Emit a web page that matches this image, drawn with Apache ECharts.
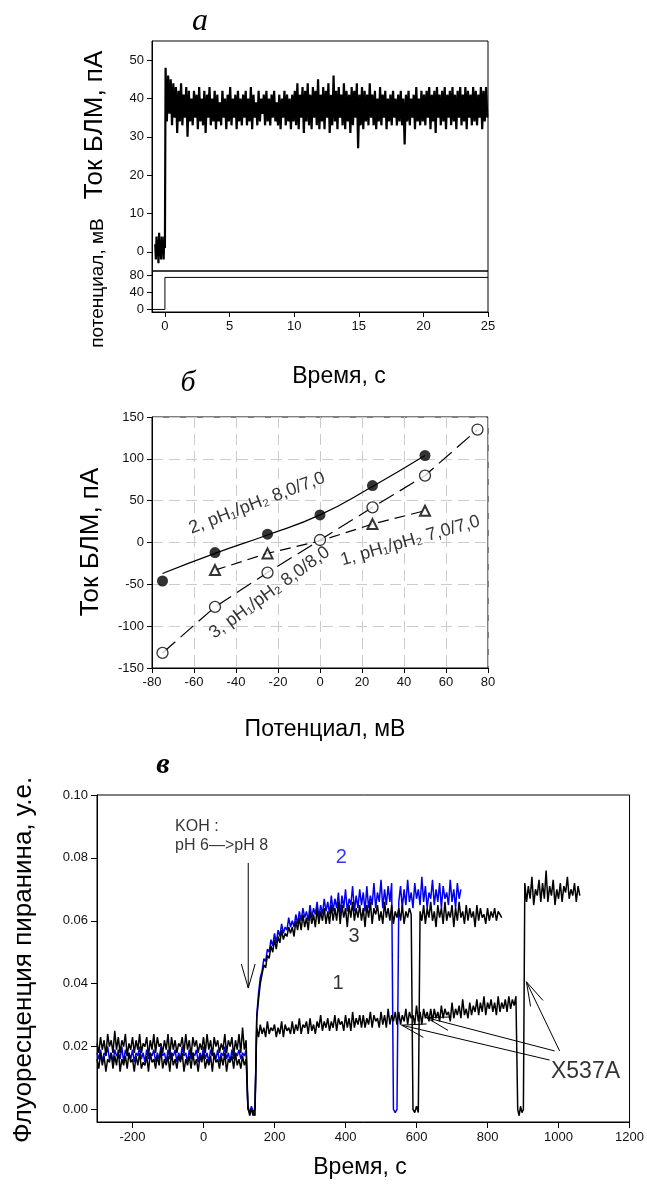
<!DOCTYPE html>
<html><head><meta charset="utf-8">
<script src="https://cdn.jsdelivr.net/npm/echarts@6/dist/echarts.min.js"></script>
<style>html,body{margin:0;padding:0;background:#fff}#c{width:647px;height:1191px}</style>
</head><body><div id="c"></div>
<script>
// ---------- Panel a: BLM current and potential ----------
const aPreT0 = -0.75, aPreDt = 0.05;
const aPre = [2,-2,4,-1,3,-3,5,-1,2,-2,4,0,3,-2,4,1];
const aMainT0 = 0.05, aMainDt = 0.1;
const aMain = [
48,34,46,36,45,33,44,35,43,31,42,34,44,33,41,35,43,30,42,34,
40,33,42,35,41,32,43,34,40,33,42,31,41,35,43,33,40,34,42,32,
41,34,39,33,42,35,40,32,41,34,43,33,40,35,41,32,42,34,40,33,
41,35,42,33,40,34,43,32,41,35,39,33,42,34,40,36,41,33,42,34,
40,33,41,35,42,34,39,33,41,32,40,35,42,33,41,34,40,32,41,34,
42,33,44,32,41,35,43,31,42,34,44,33,41,32,43,35,42,33,45,32,
41,34,43,32,42,35,44,31,41,33,46,34,42,32,43,35,41,33,44,32,
42,34,41,31,43,33,42,35,44,27,41,33,43,32,42,34,41,33,44,35,
41,33,42,32,40,34,43,33,41,35,42,32,40,34,41,33,42,35,40,33,
41,34,42,33,40,28,41,34,42,33,40,35,41,32,43,34,40,33,42,34,
41,33,42,35,43,32,41,34,42,31,43,35,41,33,42,34,43,32,41,35,
42,33,43,34,41,32,42,35,43,33,41,34,43,32,42,35,41,33,43,34,
42,33,41,35,43,32,42,34,43,35];
const aPotT = [-1, 0, 0, 25];
const aPotV = [0, 0, 75, 75];
const aXTicks = [0,5,10,15,20,25];
const aYTicks = [0,10,20,30,40,50];
const aPotTicks = [0,40,80];

// ---------- Panel b: I-V curves ----------
const b2X = [-75,-50,-25,0,25,50];
const b2Y = [-46,-12,10,33,68,104];
const b2FitX = [-75,-50,-25,0,25,50];
const b2FitY = [-37,-13,9,33,67,104];
const b1X = [-50,-25,25,50];
const b1Y = [-33,-13,22,38];
const b1LineX = [-50,-25,0,25,50];
const b1LineY = [-33,-13,2,22,38];
const b3X = [-75,-50,-25,0,25,50,75];
const b3Y = [-132,-77,-36,3,42,80,135];
const bLabels = ['2, pH\u2081/pH\u2082 8,0/7,0', '3, pH\u2081/pH\u2082 8,0/8,0', '1, pH\u2081/pH\u2082 7,0/7,0'];

// ---------- Panel c: pyranine fluorescence (values in 0.001 units) ----------
const c1Base = [21,18,23,19,22,17,24,20,22,18,25,19,23,18,22,20,24,17,21,19,
23,18,22,19,24,18,21,20,23,17,22,19,24,18,23,20,21,18,22,19,
24,17,23,19,22,18,21,20,23,18,24,19,22,17,23,20,22,18,21,19,
23,18,24,19,22,17,23,20,22,18,21,19,24,18,22,20,23,17,22,19,
24,18,26,19,22];
const c1Dip = [1,-1,0,-2,1];
const c1Rise = [26,23,27,24,26,23,28,24,26,25,27,23,26,24,28,23,27,25,26,24,
28,24,27,25,29,24,27,26,28,24,29,25,27,24,28,26,30,25,28,26,
29,25,28,26,30,25,29,27,28,25,30,26,29,25,31,26,29,27,30,26,
30,26,29,27,31,26,30,28,29,26,31,27,30,26,32,27,30,28,31,27,
31,27,30,28,32,27,31,29,30,27,33,28,31,27,32,29,31,28,32,28,
32,29,31,28,33,29,32,30,31,28,34,29,32,30,33,29,35,30,32,29,
34,30,33,31,35,30,34,31,36,30,34,32,35,31,34,30,36,31,34,32,
35,31,36,32,35,33,36];
const c1Dip2 = [0,-2,1,-1,0];
const c1High = [72,66,71,67,74,65,70,68,73,66,72,67,76,66,71,68,73,65,70,67,72,66,71,69,74,67,70,68,72,66,71,68];

const c2Base = [18,16,19,15,18,17,20,16,18,15,19,17,18,16,20,15,19,17,18,16,
19,15,18,17,20,16,18,15,19,16,18,17,19,15,18,16,20,17,18,15,
19,16,18,17,19,15,18,16,20,17,18,15,19,16,18,17,19,15,18,16,
20,16,18,15,19,17,18,16,19,15,18,17,20,16,18,15,19,16,18,17,
19,16,18,17,19];
const c2Dip = [0,-1,1,-1,0];
const c2Rise = [30,37,42,44,48,47,51,50,54,52,56,53,57,55,59,56,58,57,61,58,
60,58,62,59,63,60,64,61,63,60,65,61,64,62,66,61,65,62,67,63,
66,62,68,63,67,64,69,62,68,64,70,63,67,65,71,63,68,64,70,65,
69,63,71,64,68,65,72,64,69,66,73,64,70,65,71,66,72];
const c2Dip2 = [0,-1,0];
const c2After = [66,71,64,70,65,73,66,69,64,72,67,70,65,74,66,71,64,69,67,73,65,70,66,72,64,71,67,69,65,73,66,70,64,72,67,70];

const c3Base = [16,13,18,14,17,12,16,15,18,13,17,14,19,12,16,14,17,13,18,15,
16,12,17,14,18,13,15,14,17,12,18,15,16,13,17,14,19,13,16,14,
17,12,18,14,16,13,17,15,18,12,16,14,17,13,18,14,16,12,17,15,
18,13,16,14,17,12,18,15,16,13,17,14,18,12,16,15,17,13,18,14,
16,13,17,14,16];
const c3Dip = [1,-2,0,-1,-2];
const c3Rise = [29,35,40,43,46,45,49,48,52,50,54,51,55,53,57,54,56,55,58,56,
58,55,60,57,61,57,62,58,61,57,63,59,62,58,64,59,63,60,64,59,
63,59,65,60,64,60,66,59,65,61,64,58,65,61,66,60,64,61,65,60,
64,58,65,61,66,59,64,62,65,60,63,59,66,61,64,60,65,59,63,61,
64,60,65,59,63,61,64,62];
const c3Dip2 = [0,-1,1,-1];
const c3After = [63,60,65,59,64,61,66,60,63,58,65,61,64,59,66,60,63,61,65,58,
64,60,66,61,63,59,65,60,64,61,63,58,65,60,64,61,62,59,64,60,63,61,64,60,63,62,61];

const cXTicks = [-200,0,200,400,600,800,1000,1200];
const cYTicks = [0,20,40,60,80,100];
const cTraceLabels = ['1','2','3'];
const cArrows = [[126,78.4,126,38.6],[1003,18.6,909.5,40.6],[989,18.6,628,29.2],[975,15.7,558,26.8]];

// ---------- helpers ----------
function seg(t0, dt, vals){ return vals.map((v,i)=>[t0+i*dt, v]); }
function pairs(xs, ys){ return xs.map((x,i)=>[x, ys[i]]); }

const aTrace = seg(aPreT0, aPreDt, aPre).concat(seg(aMainT0, aMainDt, aMain));
const trace1 = [].concat(seg(-300,5,c1Base), seg(125,5,c1Dip), seg(150,5,c1Rise), seg(885,4,c1Dip2), seg(905,5,c1High));
const trace2 = [].concat(seg(-300,5,c2Base), seg(125,5,c2Dip), seg(150,5,c2Rise), seg(535,5,c2Dip2), seg(550,5,c2After));
const trace3 = [].concat(seg(-300,5,c3Base), seg(125,5,c3Dip), seg(150,5,c3Rise), seg(590,5,c3Dip2), seg(610,5,c3After));

const FONT = '"Liberation Sans", Arial, sans-serif';
const tickLbl = {color:'#111', fontSize:13, fontFamily:FONT};
const axLine = {show:true, onZero:false, lineStyle:{color:'#000', width:1}};

function arrowRender(params, api){
  const p1 = api.coord([api.value(0), api.value(1)]);
  const p2 = api.coord([api.value(2), api.value(3)]);
  const ang = Math.atan2(p1[1]-p2[1], p1[0]-p2[0]);
  const L = 25, h = 0.28;
  const a1 = [p2[0]+L*Math.cos(ang+h), p2[1]+L*Math.sin(ang+h)];
  const a2 = [p2[0]+L*Math.cos(ang-h), p2[1]+L*Math.sin(ang-h)];
  return {type:'group', children:[
    {type:'line', shape:{x1:p1[0],y1:p1[1],x2:p2[0],y2:p2[1]}, style:{stroke:'#000', lineWidth:1}},
    {type:'polyline', shape:{points:[a1,p2,a2]}, style:{stroke:'#000', fill:null, lineWidth:1}}
  ]};
}

const chart = echarts.init(document.getElementById('c'), null, {renderer:'canvas'});
const txt = (x,y,text,font,rot)=>({type:'text', x:x, y:y, rotation:rot||0, style:{text:text, font:font, fill:'#000', align:'center', verticalAlign:'middle', textAlign:'center', textVerticalAlign:'middle'}});
const option = {
  animation:false,
  backgroundColor:'#fff',
  textStyle:{fontFamily:FONT},
  grid:[
    {left:152, top:41, width:336, height:230, show:true, borderColor:'#000', borderWidth:1},
    {left:152, top:271, width:336, height:41, show:true, borderColor:'#000', borderWidth:1},
    {left:152, top:417, width:336, height:251, show:true, borderColor:'#000', borderWidth:1},
    {left:97, top:795, width:533, height:327, show:true, borderColor:'#000', borderWidth:1}
  ],
  xAxis:[
    {gridIndex:0, type:'value', min:-1, max:25, show:false},
    {gridIndex:1, type:'value', min:-1, max:25, axisLine:axLine, splitLine:{show:false},
      axisTick:{show:true, length:5, customValues:aXTicks, lineStyle:{color:'#000'}},
      axisLabel:Object.assign({customValues:aXTicks, margin:8}, tickLbl)},
    {gridIndex:2, type:'value', min:-80, max:80, interval:20, axisLine:axLine,
      splitLine:{show:true, lineStyle:{color:'#cccccc', type:[11,6], width:1}},
      axisTick:{show:true, length:5, lineStyle:{color:'#000'}},
      axisLabel:Object.assign({margin:8}, tickLbl)},
    {gridIndex:3, type:'value', min:-300, max:1200, axisLine:axLine, splitLine:{show:false},
      axisTick:{show:true, length:6, customValues:cXTicks, lineStyle:{color:'#000'}},
      axisLabel:Object.assign({customValues:cXTicks, margin:9, formatter:v=>String(v)}, tickLbl)}
  ],
  yAxis:[
    {gridIndex:0, type:'value', min:-5, max:55, axisLine:axLine, splitLine:{show:false},
      axisTick:{show:true, length:5, customValues:aYTicks, lineStyle:{color:'#000'}},
      axisLabel:Object.assign({customValues:aYTicks, margin:8}, tickLbl)},
    {gridIndex:1, type:'value', min:-6, max:90, axisLine:axLine, splitLine:{show:false},
      axisTick:{show:true, length:5, customValues:aPotTicks, lineStyle:{color:'#000'}},
      axisLabel:Object.assign({customValues:aPotTicks, margin:8}, tickLbl)},
    {gridIndex:2, type:'value', min:-150, max:150, interval:50, axisLine:axLine,
      splitLine:{show:true, lineStyle:{color:'#cccccc', type:[11,6], width:1}},
      axisTick:{show:true, length:5, lineStyle:{color:'#000'}},
      axisLabel:Object.assign({margin:8}, tickLbl)},
    {gridIndex:3, type:'value', min:-4, max:100, axisLine:axLine, splitLine:{show:false},
      axisTick:{show:true, length:6, customValues:cYTicks, lineStyle:{color:'#000'}},
      axisLabel:Object.assign({customValues:cYTicks, margin:9, formatter:v=>(v/1000).toFixed(2)}, tickLbl)}
  ],
  series:[
    // panel a
    {type:'line', xAxisIndex:0, yAxisIndex:0, data:aTrace, showSymbol:false, lineStyle:{color:'#000', width:2.2}},
    {type:'line', xAxisIndex:1, yAxisIndex:1, data:pairs(aPotT, aPotV), showSymbol:false, lineStyle:{color:'#000', width:1}},
    // panel b lines
    {type:'line', xAxisIndex:2, yAxisIndex:2, data:pairs(b2FitX,b2FitY), smooth:true, showSymbol:false, lineStyle:{color:'#000', width:1.2}, z:2},
    {type:'line', xAxisIndex:2, yAxisIndex:2, data:pairs(b1LineX,b1LineY), showSymbol:false, lineStyle:{color:'#000', width:1.2, type:[11,6]}, z:2},
    {type:'line', xAxisIndex:2, yAxisIndex:2, data:pairs(b3X,b3Y), showSymbol:false, lineStyle:{color:'#000', width:1.2, type:[17,7]}, z:2},
    // panel b markers
    {type:'scatter', xAxisIndex:2, yAxisIndex:2, data:pairs(b2X,b2Y), symbol:'circle', symbolSize:11, itemStyle:{color:'#000'}, z:3},
    {type:'scatter', xAxisIndex:2, yAxisIndex:2, data:pairs(b1X,b1Y), symbol:'triangle', symbolSize:10, itemStyle:{color:'#fff', borderColor:'#000', borderWidth:2}, z:3},
    {type:'scatter', xAxisIndex:2, yAxisIndex:2, data:pairs(b3X,b3Y), symbol:'circle', symbolSize:11, itemStyle:{color:'#fff', borderColor:'#000', borderWidth:1.3}, z:4},
    // panel b rotated labels
    {type:'scatter', xAxisIndex:2, yAxisIndex:2, symbolSize:0, z:5, silent:true,
      label:{show:true, position:'inside', color:'#000', fontSize:18, fontFamily:FONT, formatter:p=>p.name},
      data:[
        {name:bLabels[0], value:[-30,47], label:{rotate:21}},
        {name:bLabels[1], value:[-24,-60], label:{rotate:36}},
        {name:bLabels[2], value:[43,2], label:{rotate:16}}
      ]},
    // panel c traces
    {type:'line', xAxisIndex:3, yAxisIndex:3, data:trace2, showSymbol:false, lineStyle:{color:'#0000ee', width:1.5}, z:2},
    {type:'line', xAxisIndex:3, yAxisIndex:3, data:trace3, showSymbol:false, lineStyle:{color:'#000', width:1.5}, z:3},
    {type:'line', xAxisIndex:3, yAxisIndex:3, data:trace1, showSymbol:false, lineStyle:{color:'#000', width:1.5}, z:3},
    // panel c arrows
    {type:'custom', xAxisIndex:3, yAxisIndex:3, renderItem:arrowRender, data:cArrows, encode:{x:[0,2], y:[1,3]}, z:6, silent:true},
    // panel c labels
    {type:'scatter', xAxisIndex:3, yAxisIndex:3, symbolSize:0, z:7, silent:true,
      label:{show:true, position:'inside', color:'#000', fontSize:20, fontFamily:FONT, formatter:p=>p.name},
      data:[
        {name:cTraceLabels[1], value:[388,80], label:{color:'#0000ee'}},
        {name:cTraceLabels[2], value:[424,55]},
        {name:cTraceLabels[0], value:[379,40]},
        {name:'X537A', value:[1076,12], label:{fontSize:23}},
        {name:'KOH :', value:[-80,90], label:{fontSize:16, align:'left'}},
        {name:'pH 6\u2014>pH 8', value:[-80,84], label:{fontSize:16, align:'left'}}
      ]}
  ],
  graphic:[
    txt(200,22,'а','italic 32px "Liberation Serif", serif'),
    txt(95,125,'Ток БЛМ, пА','26px '+FONT,Math.PI/2),
    txt(98,283,'потенциал, мВ','19px '+FONT,Math.PI/2),
    txt(339,377,'Время, с','23px '+FONT),
    txt(188,383,'б','italic 30px "Liberation Serif", serif'),
    txt(91,542,'Ток БЛМ, пА','26px '+FONT,Math.PI/2),
    txt(325,730,'Потенциал, мВ','23px '+FONT),
    txt(163,765,'в','italic bold 30px "Liberation Serif", serif'),
    txt(24,960,'Флуоресценция пиранина, у.е.','26px '+FONT,Math.PI/2),
    txt(360,1168,'Время, с','23px '+FONT)
  ]
};
chart.setOption(option);
</script></body></html>
